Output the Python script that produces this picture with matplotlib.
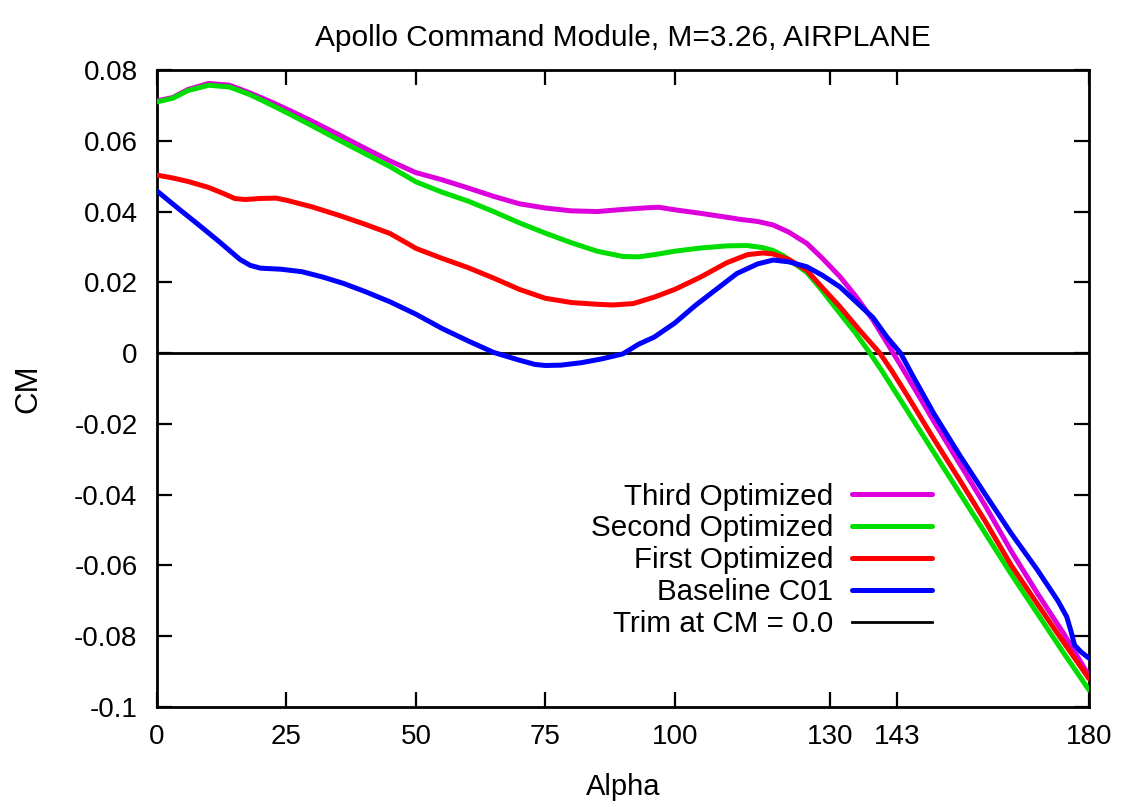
import matplotlib
matplotlib.use("Agg")
import matplotlib.pyplot as plt

plt.rcParams['font.family'] = ['Liberation Sans', 'DejaVu Sans']

# ---------------- data ----------------
third_alpha = [0, 3, 6, 10, 14, 18, 22, 25, 30, 35, 40, 45, 50, 55, 60, 65, 70, 75, 80, 85, 90, 95, 97,
               100, 105, 110, 112.6, 116, 119, 122, 125.5, 128.5, 131.9, 135, 138.3, 142.2, 145, 150,
               155, 160, 165, 170, 175, 180]
third_cm = [0.0713, 0.0722, 0.0745, 0.0762, 0.0757, 0.0735, 0.0710, 0.0690, 0.0655, 0.0618, 0.0580,
            0.0543, 0.0510, 0.0490, 0.0467, 0.0443, 0.0422, 0.0410, 0.0402, 0.0400, 0.0406, 0.0411,
            0.0412, 0.0405, 0.0395, 0.0384, 0.0378, 0.0372, 0.0362, 0.0342, 0.0310, 0.0268, 0.0216,
            0.0160, 0.0093, 0.0, -0.0068, -0.0192, -0.0312, -0.0432, -0.0560, -0.0678, -0.0790,
            -0.0912]

second_alpha = [0, 3, 6, 10, 14, 18, 22, 25, 30, 35, 40, 45, 50, 55, 60, 65, 70, 75, 80, 85, 90, 93,
                96, 100, 105, 110, 114, 117, 119, 121, 125.5, 128, 131.9, 135, 137.7, 140, 145, 150,
                155, 160, 165, 170, 175, 180]
second_cm = [0.0710, 0.0720, 0.0742, 0.0757, 0.0752, 0.0730, 0.0702, 0.0680, 0.0642, 0.0603, 0.0565,
             0.0527, 0.0484, 0.0455, 0.0430, 0.0400, 0.0368, 0.0339, 0.0312, 0.0288, 0.0273, 0.0272,
             0.0278, 0.0288, 0.0297, 0.0303, 0.0304, 0.0298, 0.0290, 0.0275, 0.0228, 0.0185, 0.0112,
             0.0055, 0.0, -0.0050, -0.0165, -0.0280, -0.0395, -0.0510, -0.0625, -0.0735, -0.0845,
             -0.0952]

first_alpha = [0, 3, 6, 10, 13, 15, 17, 20, 23, 25, 30, 35, 40, 45, 48, 50, 55, 60, 65, 70, 75, 80, 85,
               88, 92, 96, 100, 105, 110, 114, 117, 119, 122, 125.5, 128.5, 131.9, 135.5, 139.6, 142,
               145, 150, 155, 160, 165, 170, 175, 180]
first_cm = [0.0503, 0.0495, 0.0485, 0.0468, 0.0450, 0.0437, 0.0434, 0.0437, 0.0438, 0.0432, 0.0413,
            0.0390, 0.0365, 0.0338, 0.0313, 0.0296, 0.0268, 0.0242, 0.0212, 0.0180, 0.0155, 0.0143,
            0.0138, 0.0136, 0.0140, 0.0158, 0.0180, 0.0215, 0.0255, 0.0278, 0.0283, 0.0280, 0.0265,
            0.0234, 0.0185, 0.0131, 0.0068, 0.0, -0.0052, -0.0122, -0.0242, -0.0358, -0.0476, -0.0600,
            -0.0708, -0.0815, -0.0920]

base_alpha = [0, 4, 8, 12, 16, 18, 20, 24, 28, 32, 36, 40, 45, 50, 55, 60, 65, 70, 73, 75, 78, 82, 86,
              90, 93, 96, 100, 104, 108, 112, 116, 119, 122, 125.5, 128.5, 131.9, 135, 138.3, 141,
              143.6, 146, 150, 155, 160, 165, 170, 174, 175.7, 176.6, 177.2, 178.5, 180]
base_cm = [0.0458, 0.0410, 0.0363, 0.0315, 0.0265, 0.0248, 0.0240, 0.0237, 0.0230, 0.0215, 0.0197,
           0.0175, 0.0145, 0.0110, 0.0070, 0.0035, 0.0002, -0.0020, -0.0032, -0.0035, -0.0034,
           -0.0027, -0.0016, -0.0002, 0.0025, 0.0045, 0.0085, 0.0135, 0.0180, 0.0225, 0.0252, 0.0263,
           0.0258, 0.0244, 0.0220, 0.0187, 0.0145, 0.0100, 0.0045, 0.0, -0.0065, -0.0170, -0.0288,
           -0.0400, -0.0510, -0.0612, -0.0700, -0.0745, -0.0790, -0.0825, -0.0845, -0.0862]

trim_alpha = [0, 180]
trim_cm = [0.0, 0.0]

xticks = [0, 25, 50, 75, 100, 130, 143, 180]
yticks = [0.08, 0.06, 0.04, 0.02, 0, -0.02, -0.04, -0.06, -0.08, -0.1]
ytick_labels = ["0.08", "0.06", "0.04", "0.02", "0", "-0.02", "-0.04", "-0.06", "-0.08", "-0.1"]

labels = ["Third Optimized", "Second Optimized", "First Optimized", "Baseline C01", "Trim at CM = 0.0"]
colors = ["#dd00dd", "#00dd00", "#ff0000", "#0000ff", "#000000"]

# ---------------- figure ----------------
fig = plt.figure(figsize=(11.25, 8.07), dpi=100)
ax = fig.add_axes([157 / 1125, 1 - 707 / 807, (1089 - 157) / 1125, (707 - 70) / 807])

lines = []
for xs, ys, c, lab in [(third_alpha, third_cm, colors[0], labels[0]),
                       (second_alpha, second_cm, colors[1], labels[1]),
                       (first_alpha, first_cm, colors[2], labels[2]),
                       (base_alpha, base_cm, colors[3], labels[3])]:
    ln, = ax.plot(xs, ys, color=c, lw=3.6, label=lab, solid_capstyle='round',
                  solid_joinstyle='round', zorder=3)
    lines.append(ln)
ln, = ax.plot(trim_alpha, trim_cm, color=colors[4], lw=2.0, label=labels[4], zorder=2)
lines.append(ln)

ax.set_xlim(0, 180)
ax.set_ylim(-0.1, 0.08)
ax.set_xticks(xticks)
ax.set_xticklabels([str(t) for t in xticks])
ax.set_yticks(yticks)
ax.set_yticklabels(ytick_labels)
ax.tick_params(direction='in', length=11, width=1.6, top=True, right=True, labelsize=20)
ax.tick_params(axis='x', pad=12)
ax.tick_params(axis='y', pad=14)
for s in ax.spines.values():
    s.set_linewidth(2.0)

ax.set_title("Apollo Command Module, M=3.26, AIRPLANE", fontsize=21.5, pad=17)
ax.set_xlabel("Alpha", fontsize=21, labelpad=17)
ax.set_ylabel("CM", fontsize=22.5, labelpad=22)

leg = ax.legend(handles=lines, loc='lower right', bbox_to_anchor=((932 - 157) / 932, (707 - 638) / 637),
                frameon=False, markerfirst=False, fontsize=21.3, handlelength=2.7, handletextpad=0.64,
                labelspacing=0.13, borderpad=0, borderaxespad=0)

fig.savefig("out.png", dpi=100)
